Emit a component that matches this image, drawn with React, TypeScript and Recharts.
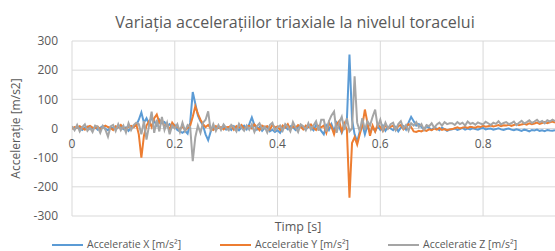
import { CartesianGrid, Line, LineChart, XAxis, YAxis } from 'recharts';

// sampled every 5 ms, from 0 to 0.94 s
const STEP = 0.005;

const accX = [
  2, -3, 4, 1, -5, 3, 6, -2, 0, 5, -4, 2, 8, -1, -6, 3, 1, -3, 5, 7, -2, 4, -8, 3, 6, 10,
  30, 55, 20, 35, 15, 38, 25, 10, 30, 18, 22, 8, 15, 5, 12,
  -5, -10, -15, -8, -18, 20, 125, 85, 45, 25, 10, -20, -40, -10, 5, -3, 6, 0, 8, -4,
  3, -5, 8, 2, -6, 4, 10, -3, 15, 38, 12, -4, 5, -8, 2, 6, -10, -4, -12, -6,
  -15, 2, 5, -3, 8, 4, -5, 6, 10, 2, -4, 7, 3, -6, 12, 5, -8,
  -20, 10, -5, 15, -10, 20, 5, -15, 10, 30, 254, 30,
  -20, -45, -10, 15, -20, 10, -15, 5, -10, 8, -5, 10, -8, 5, 0,
  -6, 5, -10, 3, 8, -4, 20, 40, 25, 10, 15, 5, -3, 8, 2, -5, 4, 0, -6, 3, -2, -8, -4,
  -3, 0, -5, -2, 2, -4, 0, -3, 1, -2, -4, 0, 2, -3, -1, 0, -4, -2, 1, -3,
  -5, -2, 0, -4, -6, -3, -5, -8, -4, -6, -10, -5, -7, -4, -8, -6, -9, -5, -7, -8, -6,
];

const accY = [
  -2, 5, 3, 8, 2, -4, 6, 9, 3, 1, 7, -3, 4, 10, 5, 2, -5, 8, 4, 12, 3, -2, 6, 9, 4, 15,
  -20, -100, -25, 10, 25, 5, 35, 48, 20, 30, 5, 15, -5, 20, 8,
  5, -3, 8, -6, 2, 10, 40, 76, 50, 30, 15, 5, 12, 0, -5, 8, 2, 5, -3, 4,
  5, 10, -4, 8, 3, 12, -2, 6, 9, 0, 14, 4, -6, 10, 5, 8, -3, 12, 4, 7,
  -5, 10, 3, 15, -4, 8, 2, 12, 6, -3, 10, 5, 14, 2, -5, 9, 4,
  10, -15, 20, 5, -20, 15, 25, -10, 18, -5, -237, -50,
  -30, -55, -20, 10, 65, 20, -25, 10, -10, 15, 5, -8, 12, 0, 6,
  10, -5, 8, 12, -3, 6, 15, 5, -10, -12, -8, -10, -5, -8, -3, -6, 0, -4, 2, -5, -2, -6, -3,
  -2, 1, 4, 0, 3, 5, 2, 6, 4, 3, 7, 5, 9, 6, 8, 10, 7, 9, 12, 8,
  11, 10, 13, 9, 12, 15, 11, 14, 16, 13, 18, 15, 17, 20, 16, 19, 22, 18, 21, 24, 20,
];

const accZ = [
  8, -6, 12, -10, 5, 14, -8, 3, -12, 10, 6, -15, 9, -4, -28, 7, 12, -9, 15, -6, 10, -14, 18, -5, 12, 20,
  15, -20, 25, -38, 10, 58, -15, 30, -10, 40, -5, 20, -20, 10, 0,
  15, -12, 20, -8, 12, 5, -112, -30, 10, -15, 20, 30, 59, -10, 15, -8, 12, -5, 14, 2,
  -6, 12, 4, -10, 16, 2, -8, 10, -4, 14, -12, 8, 18, -2, 6, -14, 12, 20, -6, 4,
  10, -8, 15, 6, -10, 22, 4, -12, 14, 8, -6, 18, -4, 10, 25, -8, 30,
  30, -10, 25, 45, 58, -15, 20, 40, -5, 35, -10, 0, 179,
  20, -10, 35, -5, 25, 10, 40, 65, 5, 30, -5, 20, 0, 15,
  20, -5, 15, 25, 0, 12, -8, 18, 10, 22, 5, 15, -4, 12, 8, 18, 2, 14, 20, 10, 22, 15, 18,
  18, 12, 22, 15, 20, 10, 24, 16, 19, 13, 21, 17, 14, 23, 18, 12, 20, 16, 25, 14,
  19, 22, 15, 18, 24, 12, 20, 26, 17, 22, 28, 19, 24, 30, 21, 26, 18, 28, 24, 30, 25,
];

const xTicks = [0, 0.2, 0.4, 0.6, 0.8];
const yTicks = [-300, -200, -100, 0, 100, 200, 300];

const SERIES = [
  { key: 'x', name: 'Acceleratie X [m/s²]', color: '#5B9BD5' },
  { key: 'y', name: 'Acceleratie Y [m/s²]', color: '#ED7D31' },
  { key: 'z', name: 'Acceleratie Z [m/s²]', color: '#A5A5A5' },
];

const FONT = '"Open Sans", "DejaVu Sans", sans-serif';
const TEXT = '#595959';

const rows = accX.map((v, i) => ({
  t: +(i * STEP).toFixed(3),
  x: v,
  y: accY[i],
  z: accZ[i],
}));

// Excel puts the category labels right under the zero line, not at the bottom
const XTick = ({ x, y, payload }: { x?: number; y?: number; payload?: { value: number } }) => (
  <text
    x={x}
    y={(y ?? 0) - 81}
    textAnchor="middle"
    dominantBaseline="central"
    fill={TEXT}
    fontSize={12}
    fontFamily={FONT}
  >
    {payload?.value}
  </text>
);

export default function App() {
  return (
    <div style={{ position: 'absolute', left: 0, top: 0, width: 555, height: 251, overflow: 'hidden', background: '#fff' }}>
      <div
        style={{
          position: 'absolute',
          left: 0,
          width: 590,
          top: 11,
          textAlign: 'center',
          fontFamily: FONT,
          fontSize: 16,
          color: TEXT,
          whiteSpace: 'nowrap',
        }}
      >
        Variația accelerațiilor triaxiale la nivelul toracelui
      </div>
      <div
        style={{
          position: 'absolute',
          left: 0,
          width: 596,
          top: 218,
          textAlign: 'center',
          fontFamily: FONT,
          fontSize: 12.5,
          color: TEXT,
        }}
      >
        Timp [s]
      </div>
      <div
        style={{
          position: 'absolute',
          left: 52,
          top: 238,
          height: 13,
          lineHeight: '13px',
          display: 'flex',
          fontFamily: FONT,
          fontSize: 10.5,
          color: TEXT,
          whiteSpace: 'nowrap',
        }}
      >
        {SERIES.map((s) => (
          <div key={s.key} style={{ display: 'flex', alignItems: 'center', width: 168 }}>
            <span style={{ display: 'inline-block', width: 31, height: 2, background: s.color, marginRight: 4 }} />
            <span>{s.name}</span>
          </div>
        ))}
      </div>
      <LineChart width={555} height={251} data={rows} margin={{ top: 41, right: 0, left: 0, bottom: 34 }}>
        <CartesianGrid stroke="#D9D9D9" strokeWidth={1} horizontalValues={yTicks} verticalValues={xTicks} />
        <XAxis
          dataKey="t"
          type="number"
          domain={[0, 0.94]}
          ticks={xTicks}
          interval={0}
          allowDataOverflow
          height={1}
          axisLine={false}
          tickLine={false}
          tick={<XTick />}
        />
        <YAxis
          type="number"
          domain={[-300, 300]}
          ticks={yTicks}
          width={72}
          axisLine={false}
          tickLine={false}
          tickSize={0}
          tickMargin={14}
          tick={{ fill: TEXT, fontSize: 12, fontFamily: FONT }}
          label={{
            value: 'Accelerație [m/s2]',
            angle: -90,
            position: 'insideLeft',
            offset: 16,
            style: { fill: TEXT, fontSize: 12, fontFamily: FONT, textAnchor: 'middle' },
          }}
        />
        {SERIES.map((s) => (
          <Line
            key={s.key}
            type="linear"
            dataKey={s.key}
            name={s.name}
            stroke={s.color}
            strokeWidth={2}
            dot={false}
            isAnimationActive={false}
          />
        ))}
      </LineChart>
    </div>
  );
}
